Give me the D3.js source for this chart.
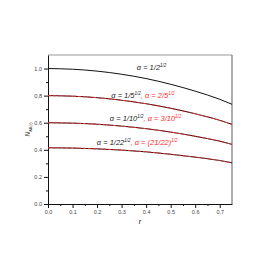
<!DOCTYPE html>
<html lang="en">
<head>
    <meta charset="UTF-8"/>
    <title>N vs r</title>
    <script src="https://d3js.org/d3.v7.min.js" charset="utf-8"></script>
    <style type="text/css">
        body { margin: 0; background: #fff; }
        text { font-family: "Liberation Sans", Arial, sans-serif; }
        .tick-label { font-size: 5.5px; fill: #444; }
        .lbl { font-size: 7.5px; font-style: italic; }
    </style>
</head>
<body>
<svg width="270" height="270"></svg>
<script type="text/javascript">
    // data
    var rValues = [0, 0.1, 0.2, 0.3, 0.4, 0.5, 0.6, 0.7, 0.75];
    var curveA = [1.0, 0.995, 0.981, 0.958, 0.926, 0.884, 0.833, 0.773, 0.736];
    var curveB = [0.8, 0.796, 0.785, 0.766, 0.740, 0.707, 0.666, 0.618, 0.588];
    var curveC = [0.6, 0.597, 0.589, 0.575, 0.556, 0.531, 0.500, 0.464, 0.440];
    var curveD = [0.415, 0.413, 0.407, 0.398, 0.385, 0.367, 0.346, 0.321, 0.304];
    var xTicks = [0, 0.1, 0.2, 0.3, 0.4, 0.5, 0.6, 0.7];
    var yTicks = [0, 0.2, 0.4, 0.6, 0.8, 1.0];

    var curves = [
        { values: curveA, red: false, black: "α = 1/2", red2: null, at: [0.362, 0.99] },
        { values: curveB, red: true, black: "α = 1/5", red2: "2/5", at: [0.258, 0.782] },
        { values: curveC, red: true, black: "α = 1/10", red2: "3/10", at: [0.252, 0.612] },
        { values: curveD, red: true, black: "α = 1/22", red2: "(21/22)", at: [0.199, 0.435] }
    ];

    var svg = d3.select("svg");
    var x = d3.scaleLinear().domain([0, 0.75]).range([48, 232]);
    var y = d3.scaleLinear().domain([0, 1.1]).range([204, 55]);

    // frame: top and right in grey
    svg.append("line").attr("x1", x(0)).attr("x2", x(0.75)).attr("y1", y(1.1)).attr("y2", y(1.1))
        .attr("stroke", "#999").attr("stroke-width", 1.2);
    svg.append("line").attr("x1", x(0.75)).attr("x2", x(0.75)).attr("y1", y(1.1)).attr("y2", y(0))
        .attr("stroke", "#777").attr("stroke-width", 1.2);

    // minor ticks
    var gx = svg.append("g").attr("transform", "translate(0," + y(0) + ")");
    gx.call(d3.axisBottom(x).tickValues(d3.range(0.05, 0.75, 0.1)).tickSize(2).tickFormat(""))
        .select(".domain").remove();
    var gy = svg.append("g").attr("transform", "translate(" + x(0) + ",0)");
    gy.call(d3.axisLeft(y).tickValues(d3.range(0.1, 1.1, 0.2)).tickSize(2).tickFormat(""))
        .select(".domain").remove();

    // major axes
    var ax = svg.append("g").attr("transform", "translate(0," + y(0) + ")")
        .call(d3.axisBottom(x).tickValues(xTicks).tickSize(4).tickPadding(2).tickSizeOuter(0)
            .tickFormat(d3.format(".1f")));
    var ay = svg.append("g").attr("transform", "translate(" + x(0) + ",0)")
        .call(d3.axisLeft(y).tickValues(yTicks).tickSize(4).tickPadding(2).tickSizeOuter(0)
            .tickFormat(d3.format(".1f")));
    svg.selectAll(".tick text").attr("class", "tick-label").attr("font-size", null).attr("font-family", null);
    svg.selectAll(".domain").attr("stroke", "#111");
    svg.selectAll(".tick line").attr("stroke", "#111");

    // axis titles
    svg.append("text").attr("x", x(0.375)).attr("y", 224).attr("text-anchor", "middle")
        .style("font-size", "7px").style("font-style", "italic").text("r");
    var yt = svg.append("text").attr("transform", "translate(30," + y(0.55) + ") rotate(-90)")
        .attr("text-anchor", "middle").style("font-size", "6.5px").attr("fill", "#333");
    yt.append("tspan").style("font-style", "italic").text("N");
    yt.append("tspan").attr("dy", 2).style("font-size", "4px").text("AB(r)");

    var line = d3.line()
        .x(function(d, i) { return x(rValues[i]); })
        .y(function(d) { return y(d); })
        .curve(d3.curveMonotoneX);

    curves.forEach(function(c) {
        svg.append("path").attr("d", line(c.values)).attr("fill", "none")
            .attr("stroke", "#111").attr("stroke-width", 1);
        if (c.red) {
            svg.append("path").attr("d", line(c.values)).attr("fill", "none")
                .attr("stroke", "#ff2a2a").attr("stroke-width", 1).attr("stroke-dasharray", "3,2");
        }
        var t = svg.append("text").attr("class", "lbl").attr("x", x(c.at[0])).attr("y", y(c.at[1]));
        t.append("tspan").attr("fill", "#222").text(c.black);
        t.append("tspan").attr("fill", "#222").attr("dy", -2.8).style("font-size", "4.5px").text("1/2");
        if (c.red2) {
            t.append("tspan").attr("fill", "#ff2a2a").attr("dy", 2.8).text(", α = " + c.red2);
            t.append("tspan").attr("fill", "#ff2a2a").attr("dy", -2.8).style("font-size", "4.5px").text("1/2");
        }
    });
</script>
</body>
</html>
